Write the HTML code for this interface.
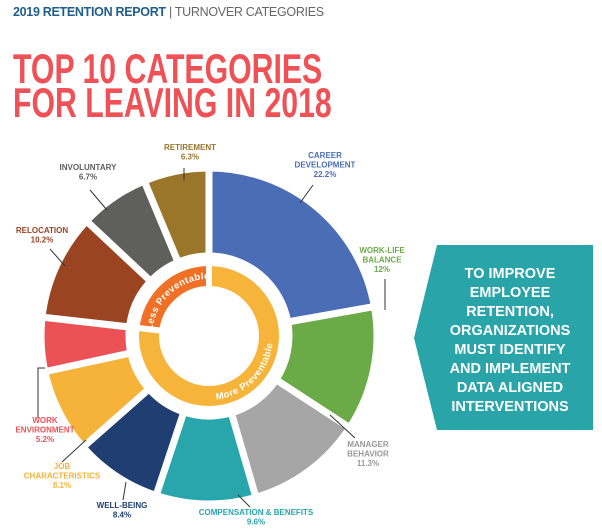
<!DOCTYPE html>
<html><head><meta charset="utf-8">
<style>
body{margin:0;background:#fff;width:602px;height:530px;overflow:hidden;font-family:"Liberation Sans",sans-serif;}
#hdr{position:absolute;left:13px;top:5px;font-size:12.5px;letter-spacing:-0.3px;white-space:nowrap}
#title{position:absolute;left:13px;top:52px;font-size:42px;font-weight:bold;color:#ee5256;line-height:34px;transform:scaleX(0.72);transform-origin:0 0;white-space:nowrap;}
svg{position:absolute;left:0;top:0}
</style></head><body>
<div id="hdr"><b style="color:#1f5d8c">2019 RETENTION REPORT</b> <span style="color:#666">| TURNOVER CATEGORIES</span></div>
<div id="title">TOP 10 CATEGORIES<br>FOR LEAVING IN 2018</div>
<svg id="chart" width="602" height="530"></svg>
<script>
const categories=["Career Development","Work-Life Balance","Manager Behavior","Compensation & Benefits","Well-Being","Job Characteristics","Work Environment","Relocation","Involuntary","Retirement"];
const values=[22.2,12,11.3,9.6,8.4,8.1,5.2,10.2,6.7,6.3];
const colors=["#4a6db5","#6aab47","#a6a6a6","#28a6ab","#1f3f73","#f5b33a","#ec5255","#9a4422","#5f605e","#9a752a"];
const labelLines=[["CAREER","DEVELOPMENT","22.2%"],["WORK-LIFE","BALANCE","12%"],["MANAGER","BEHAVIOR","11.3%"],["COMPENSATION & BENEFITS","9.6%"],["WELL-BEING","8.4%"],["JOB","CHARACTERISTICS","8.1%"],["WORK","ENVIRONMENT","5.2%"],["RELOCATION","10.2%"],["INVOLUNTARY","6.7%"],["RETIREMENT","6.3%"]];
const groups=["More Preventable","Less Preventable"];
const groupCounts=[7,3];
const NS="http://www.w3.org/2000/svg";
const svg=document.getElementById('chart');
const cx=209,cy=336;
function pt(r,a){return [cx+r*Math.sin(a),cy-r*Math.cos(a)];}
function arc(r0,r1,a0,a1){const p=[pt(r1,a0),pt(r1,a1),pt(r0,a1),pt(r0,a0)];const l=(a1-a0)>Math.PI?1:0;
return `M${p[0]}A${r1},${r1} 0 ${l} 1 ${p[1]}L${p[2]}A${r0},${r0} 0 ${l} 0 ${p[3]}Z`;}
function mk(t,attrs){const e=document.createElementNS(NS,t);for(const k in attrs)e.setAttribute(k,attrs[k]);svg.appendChild(e);return e;}
const total=values.reduce((a,b)=>a+b,0);
const sc=v=>v/total*2*Math.PI;
let a=0;const angles=[];
values.forEach((v,i)=>{const a1=a+sc(v);angles.push([a,a1]);
 const p=mk('path',{d:arc(80,168,a,a1),fill:colors[i],stroke:'#fff','stroke-width':7});
 
 
 a=a1;});
let idx=0;const gcol=["#f6b43a","#f07026"];const gAng=[];
groupCounts.forEach((n,g)=>{const a0=angles[idx][0],a1=angles[idx+n-1][1];idx+=n;gAng.push([a0,a1]);
 const p=mk('path',{d:arc(47,73,a0,a1),fill:gcol[g],stroke:'#fff','stroke-width':6});
 
 });
const defs=mk('defs',{});
function pathDef(id,r,a0,a1,sweep){const p0=pt(r,a0),p1=pt(r,a1);const e=document.createElementNS(NS,'path');
 e.setAttribute('id',id);e.setAttribute('d',`M${p0}A${r},${r} 0 0 ${sweep} ${p1}`);defs.appendChild(e);}
const D=Math.PI/180;
pathDef('pm',64,200*D,75*D,0);
pathDef('pl',57,gAng[1][0]+2*D,gAng[1][1]-2*D,1);
[['pm',groups[0],'text-more-preventable','52%'],['pl',groups[1],'text-less-preventable','50%']].forEach(([id,t,n,off])=>{
 const tx=mk('text',{fill:'#fff','font-size':9.5,'font-weight':'bold','letter-spacing':'0.4'});
 
 
 const tp=document.createElementNS(NS,'textPath');tp.setAttribute('href','#'+id);tp.setAttribute('startOffset',off);tp.setAttribute('text-anchor','middle');tp.textContent=t;tx.appendChild(tp);});
const labelPos=[[325,158],[382,253],[368,447],[256,515],[122,508],[62,469],[45,423],[42,233],[88,170],[190,150]];
const leaders=[[313,185,300,203],[385,279,385,310],[355,438,330,415],[250,507,238,495],[126,482,123,500],[86,440,62,462],[38,418,38,368,45,368],[50,249,65,266],[90,190,107,210],[184,168,184,180]];
labelLines.forEach((ls,i)=>{const tx=mk('text',{fill:i==2?'#999':colors[i],'font-size':8,'font-weight':'bold','text-anchor':'middle'});
 
 
 ls.forEach((l,j)=>{const s=document.createElementNS(NS,'tspan');s.setAttribute('x',labelPos[i][0]);s.setAttribute('y',labelPos[i][1]+j*9.5);s.textContent=l;tx.appendChild(s);});
 const L=leaders[i];let d='M'+L[0]+','+L[1];for(let k=2;k<L.length;k+=2)d+='L'+L[k]+','+L[k+1];
 const pl=mk('path',{d:d,stroke:'#333','stroke-width':1,fill:'none'});
 
 });
const cp=mk('polygon',{points:'414,338 437,245 593,245 593,430 437,430',fill:'#29a4a9'});


const callout=["TO IMPROVE","EMPLOYEE","RETENTION,","ORGANIZATIONS","MUST IDENTIFY","AND IMPLEMENT","DATA ALIGNED","INTERVENTIONS"];
const ct=mk('text',{fill:'#fff','font-size':14.5,'font-weight':'bold','text-anchor':'middle'});


callout.forEach((l,j)=>{const s=document.createElementNS(NS,'tspan');s.setAttribute('x',510);s.setAttribute('y',278+j*19);s.textContent=l;ct.appendChild(s);});
</script>
</body></html>
